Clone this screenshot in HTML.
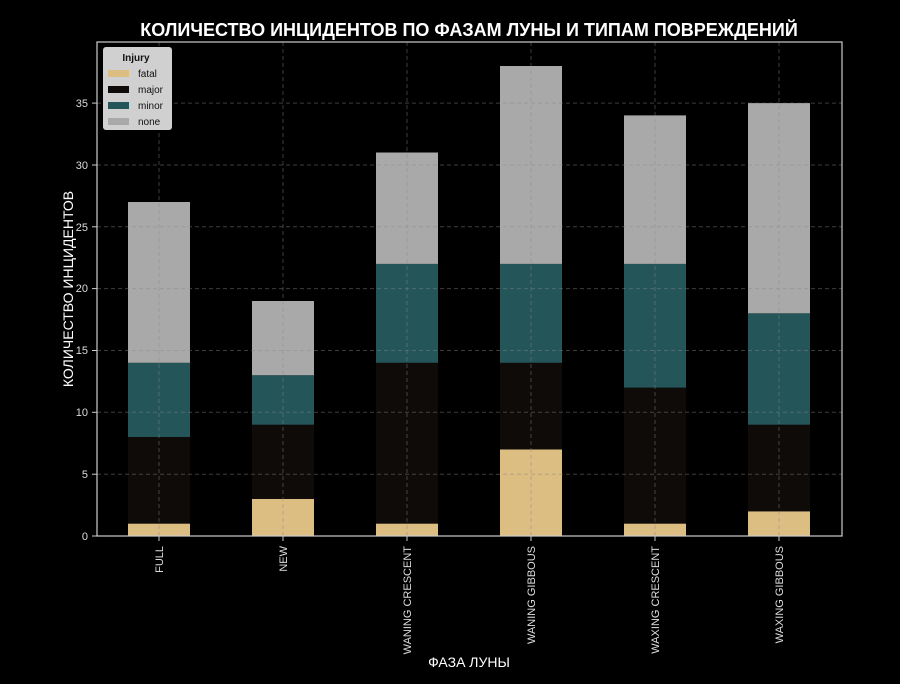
<!DOCTYPE html>
<html><head><meta charset="utf-8"><style>html,body{margin:0;padding:0;background:#000}svg{display:block}text{font-family:"Liberation Sans","DejaVu Sans",sans-serif}</style></head>
<body>
<svg width="900" height="684" viewBox="0 0 900 684" xmlns="http://www.w3.org/2000/svg">
<rect width="900" height="684" fill="#000"/>
<text x="469" y="36" text-anchor="middle" font-size="18" font-weight="bold" fill="#fff">КОЛИЧЕСТВО ИНЦИДЕНТОВ ПО ФАЗАМ ЛУНЫ И ТИПАМ ПОВРЕЖДЕНИЙ</text>
<g stroke="none">
<!-- FULL -->
<rect x="128" y="523.6" width="62" height="12.4" fill="#dcbd82"/>
<rect x="128" y="437" width="62" height="86.6" fill="#0f0b09"/>
<rect x="128" y="362.8" width="62" height="74.2" fill="#245559"/>
<rect x="128" y="202" width="62" height="160.8" fill="#a9a9a9"/>
<!-- NEW -->
<rect x="252" y="498.9" width="62" height="37.1" fill="#dcbd82"/>
<rect x="252" y="424.7" width="62" height="74.2" fill="#0f0b09"/>
<rect x="252" y="375.2" width="62" height="49.5" fill="#245559"/>
<rect x="252" y="301" width="62" height="74.2" fill="#a9a9a9"/>
<!-- WANING CRESCENT -->
<rect x="376" y="523.6" width="62" height="12.4" fill="#dcbd82"/>
<rect x="376" y="362.8" width="62" height="160.8" fill="#0f0b09"/>
<rect x="376" y="263.9" width="62" height="98.9" fill="#245559"/>
<rect x="376" y="152.5" width="62" height="111.4" fill="#a9a9a9"/>
<!-- WANING GIBBOUS -->
<rect x="500" y="449.4" width="62" height="86.6" fill="#dcbd82"/>
<rect x="500" y="362.8" width="62" height="86.6" fill="#0f0b09"/>
<rect x="500" y="263.9" width="62" height="98.9" fill="#245559"/>
<rect x="500" y="66" width="62" height="197.9" fill="#a9a9a9"/>
<!-- WAXING CRESCENT -->
<rect x="624" y="523.6" width="62" height="12.4" fill="#dcbd82"/>
<rect x="624" y="387.6" width="62" height="136" fill="#0f0b09"/>
<rect x="624" y="263.9" width="62" height="123.7" fill="#245559"/>
<rect x="624" y="115.4" width="62" height="148.5" fill="#a9a9a9"/>
<!-- WAXING GIBBOUS -->
<rect x="748" y="511.3" width="62" height="24.7" fill="#dcbd82"/>
<rect x="748" y="424.7" width="62" height="86.6" fill="#0f0b09"/>
<rect x="748" y="313.3" width="62" height="111.4" fill="#245559"/>
<rect x="748" y="103.1" width="62" height="210.2" fill="#a9a9a9"/>
</g>
<g stroke="#888" stroke-opacity="0.45" stroke-width="1" stroke-dasharray="4,3">
<line x1="97" x2="842" y1="474.2" y2="474.2"/><line x1="97" x2="842" y1="412.3" y2="412.3"/>
<line x1="97" x2="842" y1="350.5" y2="350.5"/><line x1="97" x2="842" y1="288.6" y2="288.6"/>
<line x1="97" x2="842" y1="226.8" y2="226.8"/><line x1="97" x2="842" y1="165" y2="165"/>
<line x1="97" x2="842" y1="103.1" y2="103.1"/>
<line x1="159" x2="159" y1="42" y2="536"/><line x1="283" x2="283" y1="42" y2="536"/>
<line x1="407" x2="407" y1="42" y2="536"/><line x1="531" x2="531" y1="42" y2="536"/>
<line x1="655" x2="655" y1="42" y2="536"/><line x1="779" x2="779" y1="42" y2="536"/>
</g>
<rect x="97" y="42" width="745" height="494" fill="none" stroke="#ccc" stroke-width="1.2"/>
<g stroke="#ccc"><line x1="92" x2="97" y1="536" y2="536"/><line x1="92" x2="97" y1="474.2" y2="474.2"/><line x1="92" x2="97" y1="412.3" y2="412.3"/><line x1="92" x2="97" y1="350.5" y2="350.5"/><line x1="92" x2="97" y1="288.6" y2="288.6"/><line x1="92" x2="97" y1="226.8" y2="226.8"/><line x1="92" x2="97" y1="165" y2="165"/><line x1="92" x2="97" y1="103.1" y2="103.1"/>
<line x1="159" x2="159" y1="536" y2="541"/><line x1="283" x2="283" y1="536" y2="541"/><line x1="407" x2="407" y1="536" y2="541"/><line x1="531" x2="531" y1="536" y2="541"/><line x1="655" x2="655" y1="536" y2="541"/><line x1="779" x2="779" y1="536" y2="541"/></g>
<g fill="#ddd" font-size="11" text-anchor="end">
<text x="88" y="540">0</text><text x="88" y="478">5</text><text x="88" y="416">10</text><text x="88" y="354">15</text><text x="88" y="292">20</text><text x="88" y="231">25</text><text x="88" y="169">30</text><text x="88" y="107">35</text>
<text transform="translate(163,546) rotate(-90)">FULL</text>
<text transform="translate(287,546) rotate(-90)">NEW</text>
<text transform="translate(411,546) rotate(-90)">WANING CRESCENT</text>
<text transform="translate(535,546) rotate(-90)">WANING GIBBOUS</text>
<text transform="translate(659,546) rotate(-90)">WAXING CRESCENT</text>
<text transform="translate(783,546) rotate(-90)">WAXING GIBBOUS</text>
</g>
<text x="469" y="667" text-anchor="middle" font-size="14" fill="#fff">ФАЗА ЛУНЫ</text>
<text transform="translate(73,289) rotate(-90)" text-anchor="middle" font-size="14" fill="#fff">КОЛИЧЕСТВО ИНЦИДЕНТОВ</text>
<rect x="103" y="47" width="69" height="83" rx="3" fill="#d0d0d0"/>
<text x="136" y="61" text-anchor="middle" font-size="10" font-weight="bold" fill="#111">Injury</text>
<rect x="108" y="70" width="21" height="7" fill="#dcbd82"/><text x="138" y="77" font-size="10" fill="#111">fatal</text>
<rect x="108" y="86" width="21" height="7" fill="#0f0b09"/><text x="138" y="93" font-size="10" fill="#111">major</text>
<rect x="108" y="102" width="21" height="7" fill="#245559"/><text x="138" y="109" font-size="10" fill="#111">minor</text>
<rect x="108" y="118" width="21" height="7" fill="#a9a9a9"/><text x="138" y="125" font-size="10" fill="#111">none</text>
</svg>
</body></html>
